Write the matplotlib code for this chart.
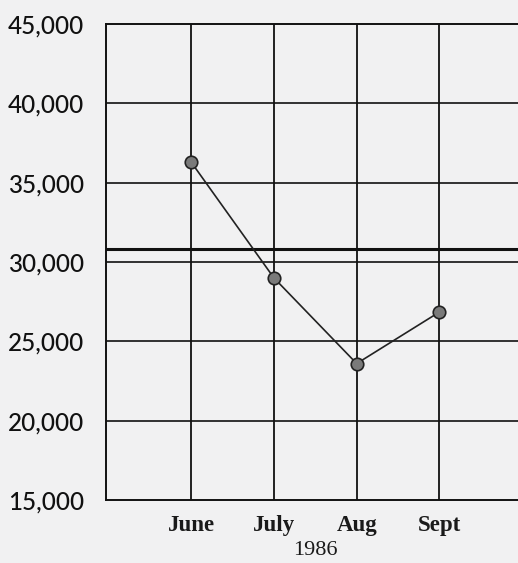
import matplotlib.pyplot as plt

months = ['June', 'July', 'Aug', 'Sept']
values = [36300, 29000, 23600, 26850]
y_ticks = [15000, 20000, 25000, 30000, 35000, 40000, 45000]
ref_value = 30800
year = '1986'

plt.rcParams['font.family'] = ['Liberation Serif', 'DejaVu Serif']

fig = plt.figure(figsize=(5.18, 5.63), dpi=100)
fig.patch.set_facecolor('#f1f1f2')
ax = fig.add_axes([0.2046, 0.112, 0.7954, 0.845])
ax.set_facecolor('#f1f1f2')

x = list(range(len(months)))
ax.set_xlim(-1.03, 3.95)
ax.set_ylim(15000, 45000)

# grid
for xi in x:
    ax.axvline(xi, color='#111111', lw=1.3, zorder=1)
for yv in y_ticks[1:-1]:
    ax.axhline(yv, color='#111111', lw=1.2, zorder=1)
ax.axhline(ref_value, color='#111111', lw=2.2, zorder=1)

ax.plot(x, values, color='#222222', lw=1.2, marker='o', markersize=9,
        markerfacecolor='#7a7a7a', markeredgecolor='#222222', markeredgewidth=1.2, zorder=3)

for side in ['left', 'top', 'bottom']:
    ax.spines[side].set_color('#111111')
    ax.spines[side].set_linewidth(1.4)
ax.spines['right'].set_visible(False)

ax.set_yticks(y_ticks)
ax.set_yticklabels([f'{v:,}' for v in y_ticks], fontsize=17.5, family='Lato',
                   fontweight='medium', color='#111111')
ax.set_xticks(x)
ax.set_xticklabels(months, fontsize=16.5, fontweight='bold', color='#1a1a1a')
ax.tick_params(axis='y', length=0, pad=16)
ax.tick_params(axis='x', length=0, pad=11)

# year label centred between July and Aug
ax.text(1.5, -0.106, year, transform=ax.get_xaxis_transform(), ha='center', va='center',
        fontsize=16, color='#1a1a1a')

fig.savefig('out.png', dpi=100, facecolor=fig.get_facecolor())
